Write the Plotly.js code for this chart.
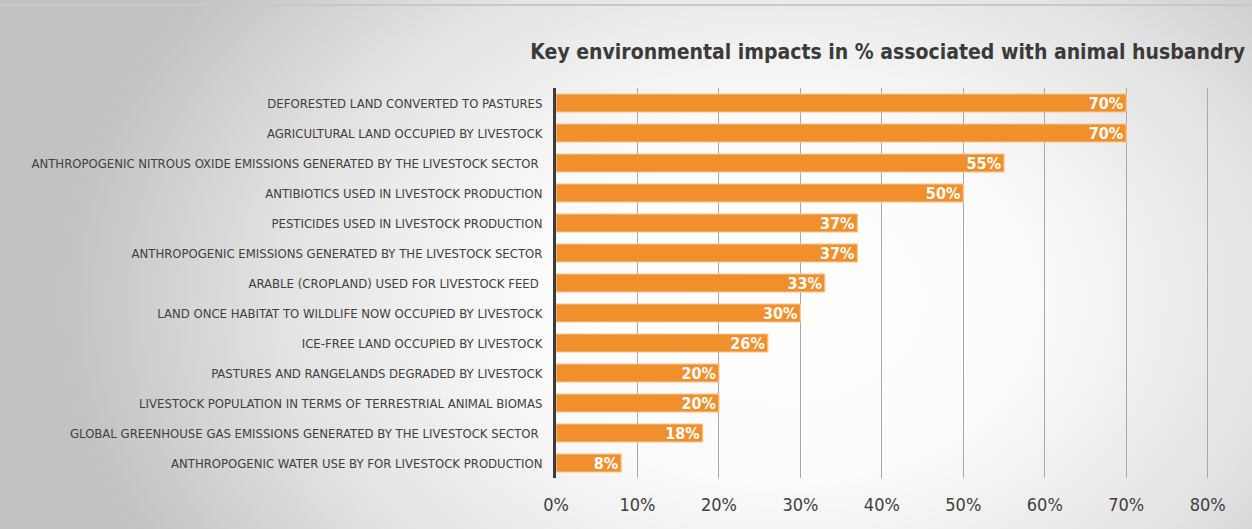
<!DOCTYPE html>
<html>
<head>
<meta charset="utf-8">
<script src="https://cdn.plot.ly/plotly-3.0.1.min.js"></script>
<style>
html,body{margin:0;padding:0;}
body{width:1252px;height:529px;overflow:hidden;
background:radial-gradient(ellipse 720px 520px at 780px 300px,#ffffff 0%,#fbfbfb 35%,#e2e2e2 70%,#c2c2c2 100%);}
#chart{width:1252px;height:529px;position:relative;}
#topline{position:absolute;left:0;top:4px;width:1252px;height:2px;background:#c8c8c8;}
</style>
</head>
<body>
<div id="topline"></div>
<div id="chart"></div>
<script>
const categories = [
  "DEFORESTED LAND CONVERTED TO PASTURES",
  "AGRICULTURAL LAND OCCUPIED BY LIVESTOCK",
  "ANTHROPOGENIC NITROUS OXIDE EMISSIONS GENERATED BY THE LIVESTOCK SECTOR ",
  "ANTIBIOTICS USED IN LIVESTOCK PRODUCTION",
  "PESTICIDES USED IN LIVESTOCK PRODUCTION",
  "ANTHROPOGENIC EMISSIONS GENERATED BY THE LIVESTOCK SECTOR",
  "ARABLE (CROPLAND) USED FOR LIVESTOCK FEED ",
  "LAND ONCE HABITAT TO WILDLIFE NOW OCCUPIED BY LIVESTOCK",
  "ICE-FREE LAND OCCUPIED BY LIVESTOCK",
  "PASTURES AND RANGELANDS DEGRADED BY LIVESTOCK",
  "LIVESTOCK POPULATION IN TERMS OF TERRESTRIAL ANIMAL BIOMAS",
  "GLOBAL GREENHOUSE GAS EMISSIONS GENERATED BY THE LIVESTOCK SECTOR ",
  "ANTHROPOGENIC WATER USE BY FOR LIVESTOCK PRODUCTION"
];
const values = [0.70, 0.70, 0.55, 0.50, 0.37, 0.37, 0.33, 0.30, 0.26, 0.20, 0.20, 0.18, 0.08];
const tickValues = [0, 0.1, 0.2, 0.3, 0.4, 0.5, 0.6, 0.7, 0.8];
const tickLabels = ["0%", "10%", "20%", "30%", "40%", "50%", "60%", "70%", "80%"];
const titleText = "Key environmental impacts in % associated with animal husbandry";

const narrow = "'DejaVu Sans Condensed', 'Liberation Sans Narrow', 'Open Sans', sans-serif";

const trace = {
  type: 'bar',
  orientation: 'h',
  y: categories,
  x: values,
  width: 0.6,
  marker: {color: '#F0902C', line: {color: '#F8C590', width: 1.2}},
  text: values.map(v => Math.round(v * 100) + '%'),
  textposition: 'inside',
  insidetextanchor: 'end',
  textangle: 0,
  textfont: {family: narrow, size: 16, color: '#ffffff', weight: 'bold'},
  constraintext: 'none',
  cliponaxis: false,
  hoverinfo: 'skip'
};

const layout = {
  width: 1252,
  height: 529,
  paper_bgcolor: 'rgba(0,0,0,0)',
  plot_bgcolor: 'rgba(0,0,0,0)',
  margin: {l: 556, r: 28, t: 88, b: 51},
  showlegend: false,
  title: {
    text: '<b>' + titleText + '</b>',
    font: {family: narrow, size: 21, color: '#3a3a3a'},
    x: 0.9945, xanchor: 'right', xref: 'container',
    y: 1, yref: 'container', yanchor: 'top', pad: {t: 44}
  },
  xaxis: {
    range: [0, 0.82],
    tickvals: tickValues,
    ticktext: tickLabels,
    showgrid: true,
    gridcolor: '#a8a8a8',
    gridwidth: 1,
    zeroline: false,
    showline: false,
    ticks: '',
    ticklabelstandoff: 14,
    tickfont: {family: narrow, size: 18, color: '#404040'},
    fixedrange: true
  },
  yaxis: {
    autorange: 'reversed',
    showline: true,
    linecolor: '#3c3c3c',
    linewidth: 3,
    showgrid: false,
    ticks: '',
    ticklabelstandoff: 8,
    tickfont: {family: narrow, size: 13, color: '#404040'},
    fixedrange: true
  },
  bargap: 0.4
};

Plotly.newPlot('chart', [trace], layout, {displayModeBar: false, staticPlot: true});
</script>
</body>
</html>
